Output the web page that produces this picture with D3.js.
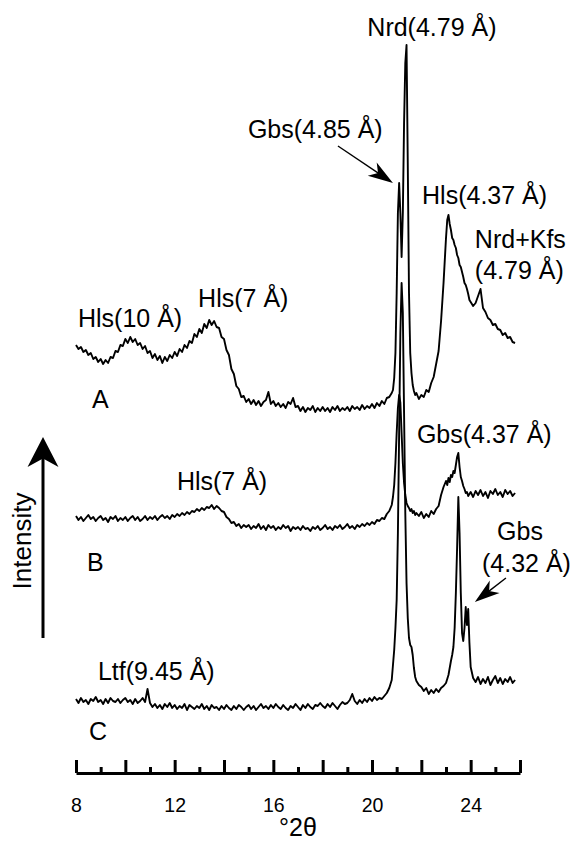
<!DOCTYPE html>
<html>
<head>
<meta charset="utf-8">
<script src="https://cdn.jsdelivr.net/npm/d3@7"></script>
<style>
  body { margin: 0; background: #fff; }
  svg text { font-family: "Liberation Sans", Arial, Helvetica, sans-serif; fill: #000; }
</style>
</head>
<body>
<div id="chart"></div>
<script>
// XRD patterns A, B, C (°2θ vs intensity, stacked)

// sampling grid in °2θ: 0.1 steps, 0.05 steps across the sharp peaks
var twoTheta = [].concat(
  d3.range(0, 128).map(function(i) { return +(8 + i * 0.1).toFixed(2); }),
  d3.range(0, 20).map(function(i) { return +(20.8 + i * 0.05).toFixed(2); }),
  d3.range(0, 12).map(function(i) { return +(21.8 + i * 0.1).toFixed(2); }),
  d3.range(0, 20).map(function(i) { return +(23.0 + i * 0.05).toFixed(2); }),
  d3.range(0, 19).map(function(i) { return +(24.0 + i * 0.1).toFixed(2); })
);

var patternNames = ["A", "B", "C"];
var patternOffsets = [360, 240, 60];

var intensityA = [
  68,64,66,61,63,58,60,54,56,51,
  54,49,53,50,56,55,62,61,68,67,
  74,70,76,71,74,68,70,64,67,60,
  62,55,59,53,57,50,56,52,58,55,
  61,57,64,61,68,65,72,70,79,76,
  84,80,89,85,93,88,92,86,85,76,
  74,63,58,44,39,27,24,16,17,11,
  14,9,13,8,12,7,11,13,21,9,
  12,7,10,6,9,5,11,9,15,6,
  7,2,6,1,5,3,7,1,5,2,
  6,2,5,1,6,3,7,2,5,3,
  6,2,7,4,6,3,8,4,7,5,
  9,5,10,7,12,9,15,16,
  // 20.80 - 21.75
  20,23,35,60,120,200,230,200,156,200,290,350,368,250,120,60,40,28,22,18,
  // 21.8 - 22.9
  20,14,18,16,23,21,30,36,49,62,92,130,
  // 23.00 - 23.95
  175,193,198,189,183,175,173,168,165,158,155,148,146,141,136,130,128,124,119,113,
  // 24.0 - 25.8
  111,107,110,117,124,105,101,95,93,88,89,84,83,78,80,75,76,71,70
];

var intensityB = [
  17,13,16,12,15,18,14,16,12,15,
  17,13,15,11,16,14,17,12,15,13,
  16,12,15,17,13,16,12,14,17,13,
  16,14,17,13,16,18,15,17,14,18,
  16,19,17,20,18,21,19,22,21,24,
  22,25,23,26,25,28,24,27,25,22,
  21,16,14,10,11,7,9,5,8,6,
  8,4,7,5,9,4,7,3,8,5,
  7,3,6,4,8,5,7,2,6,4,
  6,3,7,4,5,2,6,4,7,3,
  5,8,4,6,3,7,5,8,4,6,
  9,5,7,4,8,6,9,7,10,8,
  11,9,13,12,15,14,19,22,
  28,36,48,70,100,125,138,130,100,70,50,38,30,27,25,22,24,20,22,18,
  20,17,21,15,19,16,22,19,24,27,38,46,
  52,48,55,51,58,56,62,60,68,76,80,66,56,52,47,44,40,41,37,39,
  41,36,42,38,43,37,41,35,42,39,44,38,41,36,43,39,42,37,40
];

var intensityC = [
  14,10,15,11,13,9,14,12,16,11,
  13,9,14,10,15,12,11,14,10,13,
  15,11,13,9,14,10,12,15,11,24,
  10,6,9,5,8,4,9,6,10,5,
  8,4,7,5,9,3,8,6,4,7,
  5,9,4,7,3,8,5,6,3,7,
  4,8,5,3,7,4,8,6,3,6,
  8,4,7,3,6,9,5,7,4,8,
  5,9,6,4,8,5,3,7,5,9,
  6,3,8,5,9,6,4,8,7,10,
  7,5,9,6,10,7,4,8,11,9,
  10,13,19,12,9,13,10,14,11,15,
  12,16,13,15,14,17,20,25,
  33,48,63,85,113,180,280,380,430,400,300,200,130,95,75,68,66,58,45,36,
  32,28,26,22,25,19,23,20,24,21,25,27,
  30,34,38,45,52,58,66,85,120,165,216,180,120,80,72,85,106,88,104,70,
  46,35,31,36,29,34,30,36,28,33,37,30,35,29,34,31,36,30,33
];

var patternValues = [intensityA, intensityB, intensityC];

var majorTickLabels = [8, 12, 16, 20, 24];

// annotation text anchored in data units (°2θ, stacked intensity)
var annotations = [
  { text: "Nrd(4.79 Å)", at: [22.43, 737], anchor: "middle" },
  { text: "Gbs(4.85 Å)", at: [14.97, 635], anchor: "start" },
  { text: "Hls(4.37 Å)", at: [22.03, 569], anchor: "start" },
  { text: "Nrd+Kfs", at: [24.17, 525], anchor: "start" },
  { text: "(4.79 Å)", at: [24.17, 494], anchor: "start" },
  { text: "Hls(10 Å)", at: [8.08, 446], anchor: "start" },
  { text: "Hls(7 Å)", at: [12.95, 466], anchor: "start" },
  { text: "Hls(7 Å)", at: [12.09, 283], anchor: "start" },
  { text: "Gbs(4.37 Å)", at: [21.82, 330], anchor: "start" },
  { text: "Gbs", at: [25.07, 233], anchor: "start" },
  { text: "(4.32 Å)", at: [24.46, 201], anchor: "start" },
  { text: "Ltf(9.45 Å)", at: [8.89, 93], anchor: "start" }
];
var traceLabels = [
  { text: "A", at: [8.65, 365] },
  { text: "B", at: [8.45, 202] },
  { text: "C", at: [8.53, 33] }
];
var pointerArrows = [
  { from: [18.62, 627], to: [20.85, 590] },
  { from: [25.43, 195], to: [24.17, 171] }
];

//---------------------------------------------------------------------
var width = 574, height = 847;

var svg = d3.select("#chart").append("svg")
  .attr("width", width).attr("height", height);

var xScale = d3.scaleLinear().domain([8, 26]).range([76, 520]);
var yScale = d3.scaleLinear().domain([0, 760]).range([773, 13]);

var line = d3.line()
  .x(function(d) { return xScale(d[0]); })
  .y(function(d) { return yScale(d[1]); });

patternValues.forEach(function(vals, k) {
  var pts = twoTheta.map(function(t, i) { return [t, vals[i] + patternOffsets[k]]; });
  svg.append("path")
    .datum(pts)
    .attr("class", "pattern-" + patternNames[k])
    .attr("fill", "none")
    .attr("stroke", "#000")
    .attr("stroke-width", 1.9)
    .attr("stroke-linejoin", "round")
    .attr("d", line);
});

// bottom axis: ticks pointing up, long on even degrees
var tickAxis = svg.append("g")
  .attr("transform", "translate(0," + yScale(0) + ")")
  .call(d3.axisTop(xScale).tickValues(d3.range(8, 27, 1)).tickSizeOuter(0).tickFormat(""));
tickAxis.select(".domain").attr("stroke-width", 3);
tickAxis.selectAll(".tick line")
  .attr("stroke-width", 3)
  .attr("y2", function(d) { return d % 2 === 0 ? -13 : -6; });

var labelAxis = svg.append("g")
  .attr("transform", "translate(0," + yScale(0) + ")")
  .call(d3.axisBottom(xScale).tickValues(majorTickLabels).tickSize(0).tickPadding(25));
labelAxis.select(".domain").remove();
labelAxis.selectAll("text")
  .style("font-family", '"Liberation Sans", Arial, sans-serif')
  .style("font-size", "19.5px");

svg.append("text")
  .attr("x", xScale(17)).attr("y", 836)
  .attr("text-anchor", "middle")
  .style("font-size", "25px")
  .text("°2θ");

// arrow helper: notched filled head
function drawArrow(x1, y1, x2, y2, headLen, headWidth, lw) {
  var ang = Math.atan2(y2 - y1, x2 - x1) * 180 / Math.PI;
  svg.append("line")
    .attr("x1", x1).attr("y1", y1)
    .attr("x2", x2 - (headLen * 0.6) * Math.cos(ang * Math.PI / 180))
    .attr("y2", y2 - (headLen * 0.6) * Math.sin(ang * Math.PI / 180))
    .attr("stroke", "#000").attr("stroke-width", lw);
  svg.append("path")
    .attr("d", "M0,0 L" + (-headLen) + "," + (-headWidth / 2) + " L" + (-headLen * 0.72) + ",0 L" + (-headLen) + "," + (headWidth / 2) + " Z")
    .attr("transform", "translate(" + x2 + "," + y2 + ") rotate(" + ang + ")")
    .attr("fill", "#000");
}

// intensity arrow
drawArrow(43, 638, 43, 437, 30, 31, 3);
svg.append("text")
  .attr("transform", "translate(31,541) rotate(-90)")
  .attr("text-anchor", "middle")
  .style("font-size", "26px")
  .text("Intensity");

pointerArrows.forEach(function(a) {
  drawArrow(xScale(a.from[0]), yScale(a.from[1]), xScale(a.to[0]), yScale(a.to[1]), 25, 16, 1.4);
});

svg.selectAll("text.annot").data(annotations).enter().append("text")
  .attr("class", "annot")
  .attr("x", function(d) { return xScale(d.at[0]); })
  .attr("y", function(d) { return yScale(d.at[1]); })
  .attr("text-anchor", function(d) { return d.anchor; })
  .style("font-size", "25px")
  .text(function(d) { return d.text; });

svg.selectAll("text.trace-label").data(traceLabels).enter().append("text")
  .attr("class", "trace-label")
  .attr("x", function(d) { return xScale(d.at[0]); })
  .attr("y", function(d) { return yScale(d.at[1]); })
  .style("font-size", "25px")
  .text(function(d) { return d.text; });
</script>
</body>
</html>
